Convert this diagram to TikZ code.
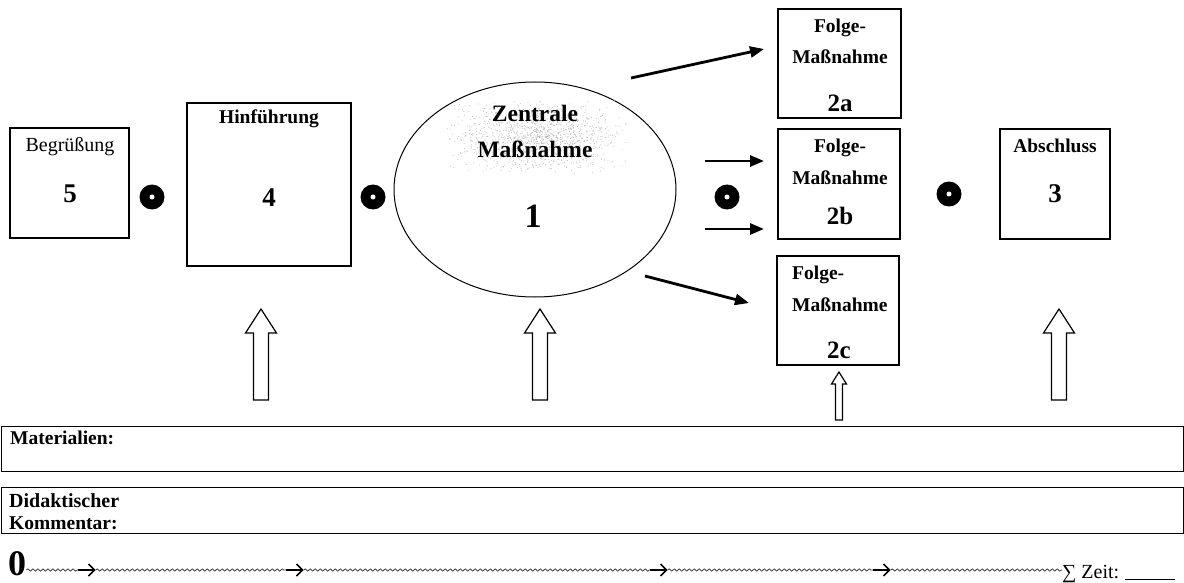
\documentclass[tikz,border=0pt]{standalone}
\usepackage{fontspec}
\setmainfont{Liberation Serif}
\usetikzlibrary{arrows.meta,decorations.pathmorphing,shapes.geometric}
\begin{document}
\begin{tikzpicture}[x=1pt,y=-1pt,
  box/.style={draw,line width=1.2pt,inner sep=0,fill=none},
  lbl/.style={font=\fontsize{19.5}{21}\selectfont\bfseries,anchor=base,inner sep=0},
  rlbl/.style={font=\fontsize{20}{22}\selectfont,anchor=base,inner sep=0},
  num/.style={font=\fontsize{27}{29}\selectfont\bfseries,anchor=base,inner sep=0},
  dotmark/.style={circle,fill=black,minimum size=25pt,inner sep=0,
    path picture={\fill[white] (path picture bounding box.center) circle (2.5pt);}},
  conn/.style={line width=2.8pt,-{Triangle[length=14pt,width=11pt]}},
  blk/.style={draw,line width=1.2pt,fill=white,line join=miter},
  wavy/.style={decorate,decoration={snake,amplitude=1.1pt,segment length=5pt},line width=0.8pt,black!75},
  tarrow/.style={inner sep=0,minimum width=17pt,minimum height=12pt},
  tarrowline/.style={line width=1.7pt,-{Straight Barb[length=6pt,width=12pt,line width=1.7pt]}}
]
\useasboundingbox (0,0) rectangle (1184,583);
\fill[white] (0,0) rectangle (1184,583);

% boxes
\node[box,minimum width=119pt,minimum height=110pt] (b5) at (69.5,183) {};
\node[box,minimum width=164pt,minimum height=163pt] (b4) at (269,184.5) {};
\node[ellipse,draw,line width=1pt,minimum width=282pt,minimum height=215pt,inner sep=0] (e1) at (535,189.5) {};
\node[box,minimum width=123pt,minimum height=109pt] (b2a) at (839.5,63.5) {};
\node[box,minimum width=122pt,minimum height=110pt] (b2b) at (839,184) {};
\node[box,minimum width=122pt,minimum height=109pt] (b2c) at (838,310.5) {};
\node[box,minimum width=110pt,minimum height=110pt] (b3) at (1055,184) {};

% speckled background in the ellipse
\pgfmathsetseed{42}
\foreach \i in {1,...,1400}{
  \pgfmathsetmacro\px{537+47*(rand+rand)}
  \pgfmathsetmacro\py{137+19*(rand+rand)}
  \fill[gray!55] (\px,\py) circle (0.5pt);
}

% texts
\node[rlbl] (t5a) at (70,152) {Begrüßung};
\node[num] (t5b) at (70,203) {5};
\node[lbl] (t4a) at (269,124) {Hinführung};
\node[num] (t4b) at (269,207) {4};
\node[lbl,font=\fontsize{23.5}{25}\selectfont\bfseries] (t1a) at (535,122) {Zentrale};
\node[lbl,font=\fontsize{23.5}{25}\selectfont\bfseries] (t1b) at (535,158) {Maßnahme};
\node[num,font=\fontsize{34}{36}\selectfont\bfseries] (t1c) at (533,227) {1};
\node[lbl] (t2aa) at (840,33) {Folge-};
\node[lbl] (t2ab) at (840,64) {Maßnahme};
\node[num,font=\fontsize{25}{27}\selectfont\bfseries] (t2ac) at (840,112) {2a};
\node[lbl] (t2ba) at (840,153) {Folge-};
\node[lbl] (t2bb) at (840,185) {Maßnahme};
\node[num,font=\fontsize{25}{27}\selectfont\bfseries] (t2bc) at (840,224) {2b};
\node[lbl,anchor=base west] (t2ca) at (792,279) {Folge-};
\node[lbl,anchor=base west] (t2cb) at (792,311) {Maßnahme};
\node[num,font=\fontsize{25}{27}\selectfont\bfseries] (t2cc) at (839,358) {2c};
\node[lbl] (t3a) at (1055,153) {Abschluss};
\node[num] (t3b) at (1055,203) {3};

% dots
\node[dotmark] (d1) at (152,197) {};
\node[dotmark] (d2) at (373,197) {};
\node[dotmark] (d3) at (727,197) {};
\node[dotmark] (d4) at (949,194) {};

% connectors
\coordinate (s2a) at (631,78);  \coordinate (e2a) at (764,49);
\coordinate (s2b1) at (705,161); \coordinate (e2b1) at (764,161);
\coordinate (s2b2) at (705,229); \coordinate (e2b2) at (764,229);
\coordinate (s2c) at (645,276); \coordinate (e2c) at (749,303);
\draw[conn] (s2a) -- (e2a);
\draw[conn] (s2b1) -- (e2b1);
\draw[conn] (s2b2) -- (e2b2);
\draw[conn] (s2c) -- (e2c);

% block arrows
\foreach \x in {261,540,1059}{
  \draw[blk] (\x,309) -- (\x+15.5,333) -- (\x+7.5,333) -- (\x+7.5,400)
    -- (\x-7.5,400) -- (\x-7.5,333) -- (\x-15.5,333) -- cycle;
}
\draw[blk] (839,372) -- (846.5,384) -- (842.5,384) -- (842.5,420)
  -- (835.5,420) -- (835.5,384) -- (831.5,384) -- cycle;

% lower boxes
\node[draw,line width=1pt,minimum width=1182pt,minimum height=45pt,anchor=north west,inner sep=0] (mat) at (1,426) {};
\node[lbl,anchor=base west,font=\fontsize{19.5}{21}\selectfont\bfseries] (tmat) at (10,444) {Materialien:};
\node[draw,line width=1pt,minimum width=1182pt,minimum height=46pt,anchor=north west,inner sep=0] (kom) at (1,487) {};
\node[lbl,anchor=base west,font=\fontsize{20}{21}\selectfont\bfseries] (tkom1) at (9,507) {Didaktischer};
\node[lbl,anchor=base west,font=\fontsize{19.5}{21}\selectfont\bfseries] (tkom2) at (9,529) {Kommentar:};

% timeline
\node[anchor=base west,inner sep=0,font=\fontsize{36}{38}\selectfont\bfseries] (t0) at (8,575) {0};
\node[tarrow] (ar1) at (87,570) {};
\node[tarrow] (ar2) at (295,570) {};
\node[tarrow] (ar3) at (659,570) {};
\node[tarrow] (ar4) at (882,570) {};
\foreach \a in {ar1,ar2,ar3,ar4}{
  \draw[tarrowline] (\a.west) -- (\a.east);
}
\node[anchor=base west,inner sep=0,font=\fontsize{20}{22}\selectfont] (zeit) at (1062,578) {∑ Zeit:};
\coordinate (ul1) at (1125,579); \coordinate (ul2) at (1175,579);
\draw[line width=0.8pt] (ul1) -- (ul2);
\draw[wavy] (t0.east |- ar1.west) -- (ar1.west);
\draw[wavy] (ar1.east) -- (ar2.west);
\draw[wavy] (ar2.east) -- (ar3.west);
\draw[wavy] (ar3.east) -- (ar4.west);
\draw[wavy] (ar4.east) -- (zeit.west |- ar4.east);
\end{tikzpicture}
\end{document}
